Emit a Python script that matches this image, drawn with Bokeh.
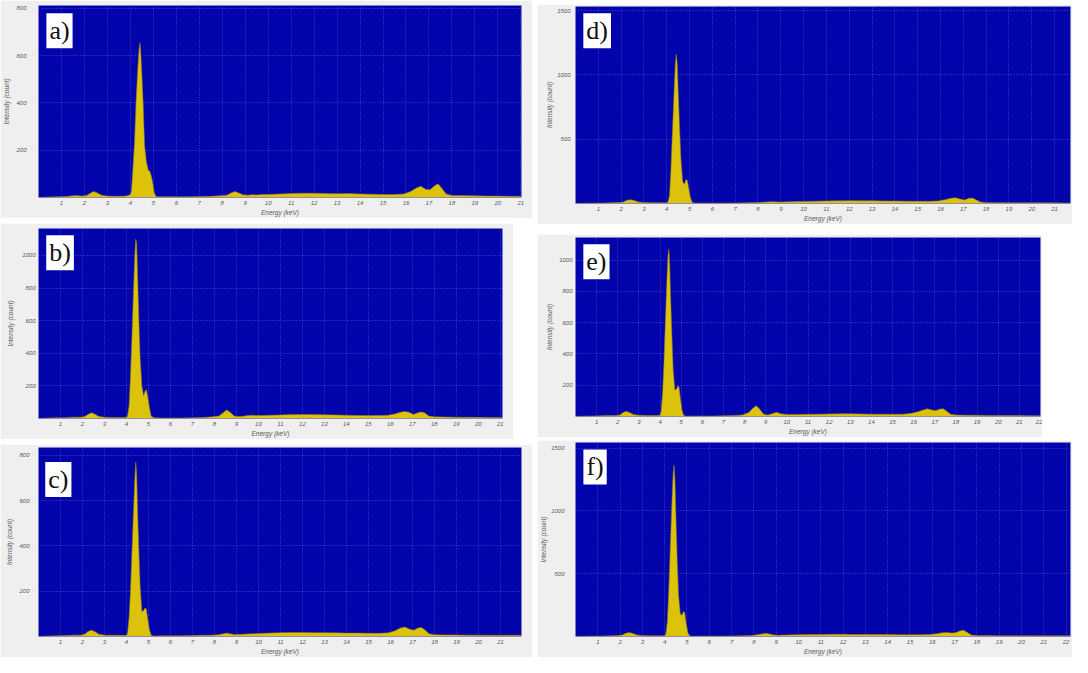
from bokeh.plotting import figure
from bokeh.layouts import row, column
from bokeh.models import FixedTicker, Label, Range1d, Spacer
from bokeh.embed import file_html
from bokeh.resources import INLINE

# ---------------- data ----------------
energy_kev = [
    0.0, 0.4, 0.8, 1.2, 1.6, 1.9, 2.1, 2.25, 2.4, 2.55,
    2.75, 3.0, 3.4, 3.8, 4.0, 4.05, 4.12, 4.18, 4.25, 4.32,
    4.38, 4.42, 4.46, 4.5, 4.56, 4.62, 4.7, 4.78, 4.84, 4.9,
    4.96, 5.04, 5.12, 5.25, 5.6, 6.0, 6.5, 7.0, 7.5, 7.9,
    8.2, 8.4, 8.55, 8.7, 8.9, 9.1, 9.3, 9.5, 9.7, 10.0,
    10.5, 11.0, 11.5, 12.0, 12.5, 13.0, 13.5, 14.0, 14.5, 15.0,
    15.5, 15.9, 16.2, 16.45, 16.65, 16.85, 17.05, 17.25, 17.4, 17.55,
    17.75, 18.0, 18.5, 19.0, 19.5, 20.0, 20.5, 21.0, 21.5, 22.0, 22.5]

count_a = [
    0, 2, 3, 4, 8, 6, 8, 18, 25, 20,
    10, 6, 5, 6, 12, 30, 140, 230, 410, 540,
    630, 655, 600, 520, 390, 220, 150, 115, 112, 95,
    70, 20, 4, 3, 3, 3, 3, 4, 5, 7,
    10, 20, 25, 20, 12, 10, 12, 11, 13, 13,
    15, 17, 18, 18, 17, 16, 17, 15, 14, 13,
    13, 15, 25, 40, 48, 35, 33, 50, 58, 40,
    15, 8, 8, 7, 6, 6, 5, 5, 5, 5, 5]

count_b = [
    0, 3, 4, 5, 8, 8, 12, 25, 35, 28,
    12, 8, 6, 6, 8, 15, 80, 250, 500, 780,
    1000, 1100, 1080, 900, 620, 380, 200, 140, 165, 178,
    140, 70, 15, 4, 3, 3, 3, 4, 6, 10,
    15, 35, 52, 40, 15, 12, 14, 18, 20, 18,
    20, 22, 24, 25, 24, 23, 22, 20, 19, 18,
    18, 20, 28, 38, 43, 38, 25, 35, 40, 36,
    15, 10, 9, 8, 7, 7, 6, 6, 5, 5, 5]

count_c = [
    0, 2, 3, 4, 6, 6, 10, 22, 28, 22,
    10, 6, 5, 5, 5, 15, 90, 200, 380, 560,
    700, 770, 720, 560, 380, 220, 110, 115, 126, 120,
    80, 30, 6, 2, 3, 3, 3, 4, 5, 6,
    8, 12, 15, 12, 9, 9, 10, 11, 12, 13,
    15, 17, 18, 18, 17, 17, 16, 15, 15, 14,
    14, 16, 25, 38, 42, 33, 28, 38, 40, 30,
    12, 8, 7, 7, 6, 6, 5, 5, 5, 5, 5]

count_d = [
    0, 2, 3, 4, 6, 8, 12, 25, 30, 25,
    12, 8, 6, 6, 5, 10, 60, 250, 560, 860,
    1100, 1160, 1080, 880, 600, 350, 170, 150, 185, 180,
    120, 45, 8, 3, 3, 3, 3, 4, 5, 7,
    10, 12, 14, 13, 12, 12, 13, 14, 15, 16,
    18, 20, 21, 22, 22, 21, 20, 19, 18, 17,
    17, 20, 30, 40, 45, 35, 28, 40, 42, 30,
    12, 7, 6, 6, 5, 5, 5, 5, 4, 4, 4]

count_e = [
    0, 2, 3, 4, 6, 6, 10, 25, 33, 26,
    12, 8, 6, 6, 8, 30, 150, 330, 600, 860,
    1040, 1070, 960, 760, 520, 300, 170, 175, 196, 185,
    120, 40, 6, 2, 3, 3, 3, 4, 6, 10,
    25, 55, 68, 50, 15, 10, 18, 27, 18, 12,
    13, 14, 15, 16, 17, 17, 16, 15, 15, 14,
    15, 20, 30, 42, 49, 42, 38, 48, 49, 35,
    14, 9, 8, 8, 7, 7, 6, 6, 5, 5, 5]

count_f = [
    0, 2, 3, 4, 6, 8, 12, 25, 31, 25,
    12, 8, 6, 6, 5, 20, 120, 350, 700, 1050,
    1300, 1365, 1250, 980, 620, 330, 180, 170, 200, 190,
    110, 30, 5, 2, 3, 3, 3, 4, 5, 8,
    15, 22, 26, 20, 12, 10, 11, 12, 13, 14,
    15, 16, 17, 17, 16, 16, 15, 15, 14, 14,
    14, 16, 22, 30, 32, 28, 30, 45, 50, 35,
    12, 8, 7, 6, 6, 5, 5, 5, 5, 5, 5]

panel_names = ["a)", "b)", "c)", "d)", "e)", "f)"]
x_tick_values = list(range(1, 23))
y_ticks_a = [200, 400, 600, 800]
y_ticks_b = [200, 400, 600, 800, 1000]
y_ticks_c = [200, 400, 600, 800]
y_ticks_d = [500, 1000, 1500]
y_ticks_e = [200, 400, 600, 800, 1000]
y_ticks_f = [500, 1000, 1500]
x_axis_title = "Energy (keV)"
y_axis_title = "Intensity (count)"

for series in (count_a, count_b, count_c, count_d, count_e, count_f):
    assert len(series) == len(energy_kev)

# ---------------- styling ----------------
BLUE = "#0303ab"
YELLOW = "#dcc208"
EDGE = "#8c7d22"
FRAME = "#efefef"
TXT = "#5a5a5a"
SANS = "Liberation Sans"
SERIF = "Liberation Serif"


def make_panel(name, counts, yticks, x_end, y_end, w, h, bl, br, bt, bb,
               y_std, y_lab_std, box_dx, box_dy):
    p = figure(width=w, height=h, output_backend="svg", toolbar_location=None,
               x_range=Range1d(0, x_end), y_range=Range1d(0, y_end),
               min_border_left=bl, min_border_right=br,
               min_border_top=bt, min_border_bottom=bb,
               background_fill_color=BLUE, border_fill_color=FRAME,
               outline_line_color=None)
    p.varea(x=energy_kev, y1=0, y2=counts, fill_color=YELLOW)
    p.line(energy_kev, counts, line_color=EDGE, line_width=0.7, line_alpha=0.8)

    p.xaxis.ticker = FixedTicker(ticks=x_tick_values)
    p.yaxis.ticker = FixedTicker(ticks=yticks)
    p.xaxis.axis_label = x_axis_title
    p.yaxis.axis_label = y_axis_title
    for ax in (p.xaxis[0], p.yaxis[0]):
        ax.axis_line_color = None
        ax.major_tick_line_color = None
        ax.minor_tick_line_color = None
        ax.major_tick_out = 0
        ax.major_tick_in = 0
        ax.minor_tick_out = 0
        ax.major_label_text_font = SANS
        ax.major_label_text_font_size = "6px"
        ax.major_label_text_font_style = "italic"
        ax.major_label_text_color = TXT
        ax.axis_label_text_font = SANS
        ax.axis_label_text_font_size = "6.5px"
        ax.axis_label_text_font_style = "italic"
        ax.axis_label_text_color = TXT
    p.xaxis.major_label_standoff = 3
    p.xaxis.axis_label_standoff = 1
    p.yaxis.major_label_standoff = y_std
    p.yaxis.axis_label_standoff = y_lab_std

    p.xgrid.grid_line_color = "#8a9cff"
    p.ygrid.grid_line_color = "#8a9cff"
    p.xgrid.grid_line_alpha = 0.45
    p.ygrid.grid_line_alpha = 0.45
    p.xgrid.grid_line_dash = "1 2"
    p.ygrid.grid_line_dash = "1 2"
    p.xgrid.grid_line_width = 1
    p.ygrid.grid_line_width = 1

    pw = w - bl - br
    ph = h - bt - bb
    lab = Label(x=box_dx * x_end / pw, y=y_end - box_dy * y_end / ph,
                text=name, text_font=SERIF, text_font_size="26px",
                text_color="#111111", text_align="left", text_baseline="top",
                background_fill_color="white", background_fill_alpha=1.0,
                padding=3)
    p.add_layout(lab)
    return p


pa = make_panel(panel_names[0], count_a, y_ticks_a, 21.03, 812, 532, 218, 31, 11, 5, 17, 12, 3, 8, 8)
pb = make_panel(panel_names[1], count_b, y_ticks_b, 21.1, 1165, 513, 216, 30, 2, 5, 16, 3, 5, 8, 7)
pc = make_panel(panel_names[2], count_c, y_ticks_c, 21.95, 834, 532, 213, 29, 1, 3, 14, 9, 3, 7, 15)
pd = make_panel(panel_names[3], count_d, y_ticks_d, 21.7, 1532, 535, 220, 27, 2, 2, 17, 5, 1, 8, 7)
pe = make_panel(panel_names[4], count_e, y_ticks_e, 22.0, 1145, 505, 203, 28, 2, 3, 16, 3, 3, 8, 7)
pf = make_panel(panel_names[5], count_f, y_ticks_f, 22.2, 1545, 535, 217, 32, 2, 2, 18, 11, 1, 8, 7)

left = column(pa, Spacer(height=5), pb, Spacer(height=5), pc)
right = column(Spacer(height=4), pd, Spacer(height=10), pe, Spacer(height=3), pf)
layout = row(left, Spacer(width=5), right)

open("out.html", "w").write(file_html(layout, INLINE))
